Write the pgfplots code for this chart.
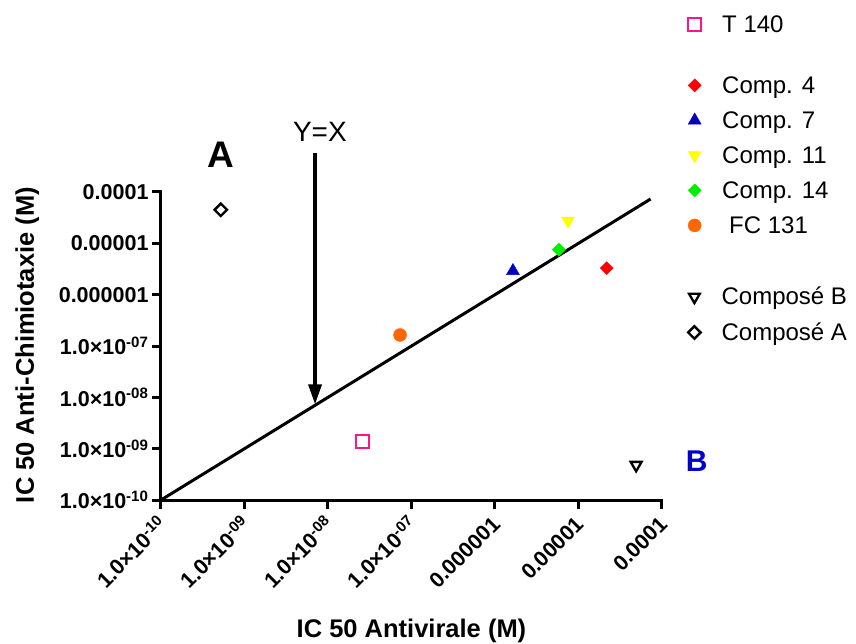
\documentclass[border=0pt]{standalone}
\usepackage{pgfplots}
\pgfplotsset{compat=1.18}
\usepackage{fontspec}
\setmainfont{Liberation Sans}
\usetikzlibrary{arrows.meta}

\definecolor{cPink}{RGB}{255,20,140}
\definecolor{cRed}{RGB}{255,0,0}
\definecolor{cBlue}{RGB}{0,0,190}
\definecolor{cYellow}{RGB}{255,255,0}
\definecolor{cGreen}{RGB}{0,240,0}
\definecolor{cOrange}{RGB}{255,102,0}
\definecolor{cLetterB}{RGB}{0,0,205}

\newcommand{\sci}[1]{1.0×10\textsuperscript{#1}}
\newcommand{\tickfont}{\fontsize{21.5}{24}\selectfont\bfseries}
\newcommand{\labfont}{\fontsize{25.5}{28}\selectfont\bfseries}
\newcommand{\legfont}{\fontsize{24}{27}\selectfont}
\newcommand{\lstrut}{\rule[-5pt]{0pt}{22pt}}

\begin{document}
\begin{tikzpicture}
\path[use as bounding box] (-161pt,-144pt) rectangle (695pt,500pt);

% main axis: frame, identity line and the five compounds
\begin{axis}[
  at={(0pt,0pt)}, anchor=south west,
  scale only axis, width=501pt, height=308pt,
  xmode=log, ymode=log,
  xmin=1e-10, xmax=1e-4, ymin=1e-10, ymax=1e-4,
  clip=false,
  axis x line=bottom, axis y line=left,
  axis line style={-, line width=3pt, line cap=rect},
  tick align=outside, major tick length=9pt,
  tick style={line width=3pt, black},
  xminorticks=false, yminorticks=false,
  xtick={1e-10,1e-9,1e-8,1e-7,1e-6,1e-5,1e-4},
  ytick={1e-10,1e-9,1e-8,1e-7,1e-6,1e-5,1e-4},
  xticklabels={\sci{-10},\sci{-09},\sci{-08},\sci{-07},0.000001,0.00001,0.0001},
  yticklabels={\sci{-10},\sci{-09},\sci{-08},\sci{-07},0.000001,0.00001,0.0001},
  ticklabel style={font=\tickfont},
  xticklabel style={xshift=4pt, yshift=-9pt, rotate=45, anchor=east},
  xlabel={IC 50 Antivirale (M)},
  ylabel={IC 50 Anti-Chimiotaxie (M)},
  label style={font=\labfont},
  xlabel style={at={(axis description cs:0.5,-0.425)}, anchor=center},
  ylabel style={at={(axis description cs:-0.267,0.503)}, anchor=center},
  legend cell align=left,
  legend style={draw=none, fill=none, inner xsep=0pt, inner ysep=0pt,
    row sep=16.5pt, column sep=21pt, nodes={inner sep=0pt},
    font=\legfont, anchor=north west, at={(axis description cs:1.0519,1.3767)}},
]
\addplot[forget plot, line width=3pt] coordinates {(1e-10,1e-10) (7.3e-5,7.3e-5)};
\addplot[forget plot, line width=3.5pt, -{Triangle[length=20pt,width=13pt]}]
  coordinates {(7.0e-9,5.75e-4) (7.0e-9,7.3e-9)};

\addplot[only marks, mark=square*, mark options={rotate=45}, mark size=4.6pt, color=cRed] coordinates {(2.18e-5,3.3e-6)};
\addlegendentry{Comp. 4\lstrut}
\addplot[only marks, mark=triangle*, mark size=7.5pt, color=cBlue] coordinates {(1.64e-6,2.9e-6)};
\addlegendentry{Comp. 7\lstrut}
\addplot[only marks, mark=triangle*, mark options={rotate=180}, mark size=7.5pt, color=cYellow] coordinates {(7.5e-6,2.75e-5)};
\addlegendentry{Comp. 11\lstrut}
\addplot[only marks, mark=square*, mark options={rotate=45}, mark size=4.6pt, color=cGreen] coordinates {(5.84e-6,7.5e-6)};
\addlegendentry{Comp. 14\lstrut}
\addplot[only marks, mark=*, mark size=6.5pt, color=cOrange] coordinates {(7.3e-8,1.64e-7)};
\addlegendentry{\hspace{7pt}FC 131\lstrut}

\node[font=\fontsize{28}{30}\selectfont] at (axis cs:8.0e-9,1.48e-3) {Y=X};
\node[font=\fontsize{37}{40}\selectfont\bfseries] at (axis cs:5.2e-10,5.3e-4) {A};
\node[font=\fontsize{30}{33}\selectfont\bfseries, text=cLetterB] at (axis cs:2.6e-4,5.75e-10) {B};
\end{axis}

% reference compound T 140
\begin{axis}[
  at={(0pt,0pt)}, anchor=south west,
  scale only axis, width=501pt, height=308pt,
  xmode=log, ymode=log,
  xmin=1e-10, xmax=1e-4, ymin=1e-10, ymax=1e-4,
  clip=false, hide axis,
  legend cell align=left,
  legend style={draw=none, fill=none, inner xsep=0pt, inner ysep=0pt,
    row sep=16.5pt, column sep=21pt, nodes={inner sep=0pt},
    font=\legfont, anchor=north west, at={(axis description cs:1.0519,1.5747)}},
]
\addplot[only marks, mark=square, mark size=6.5pt, line width=2pt, color=cPink, fill=white] coordinates {(2.6e-8,1.35e-9)};
\addlegendentry{T 140\lstrut}
\end{axis}

% compounds A and B
\begin{axis}[
  at={(0pt,0pt)}, anchor=south west,
  scale only axis, width=501pt, height=308pt,
  xmode=log, ymode=log,
  xmin=1e-10, xmax=1e-4, ymin=1e-10, ymax=1e-4,
  clip=false, hide axis,
  legend cell align=left,
  legend style={draw=none, fill=none, inner xsep=0pt, inner ysep=0pt,
    row sep=16.5pt, column sep=21pt, nodes={inner sep=0pt},
    font=\legfont, anchor=north west, at={(axis description cs:1.0519,0.6915)}},
]
\addplot[only marks, mark=triangle, mark options={rotate=180}, mark size=6.3pt, line width=2.3pt, color=black] coordinates {(4.9e-5,4.8e-10)};
\addlegendentry{Composé B\lstrut}
\addplot[only marks, mark=square, mark options={rotate=45}, mark size=4.4pt, line width=2.4pt, color=black] coordinates {(5.2e-10,4.5e-5)};
\addlegendentry{Composé A\lstrut}
\end{axis}
\end{tikzpicture}
\end{document}
